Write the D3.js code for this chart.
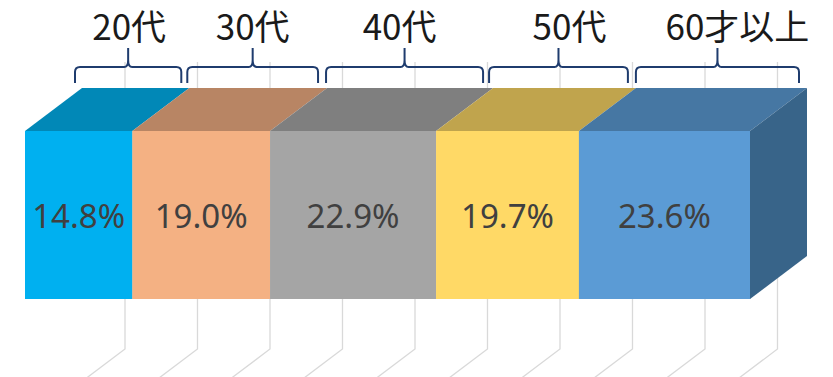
<!DOCTYPE html>
<html>
<head>
<meta charset="utf-8">
<script src="https://cdn.jsdelivr.net/npm/d3@7/dist/d3.min.js"></script>
<style>
  html, body { margin: 0; padding: 0; background: #fff; }
  svg { display: block; }
</style>
</head>
<body>
<svg id="chart" width="833" height="377"></svg>
<script>
// ---- data ----
const categories = ["20代", "30代", "40代", "50代", "60才以上"];
const values = [14.8, 19.0, 22.9, 19.7, 23.6];
const gridTicks = [10, 20, 30, 40, 50, 60, 70, 80, 90, 100];

// ---- styles ----
const frontColors = ["#00B0F0", "#F4B183", "#A5A5A5", "#FFD966", "#5B9BD5"];
const topColors   = ["#0188B7", "#B88564", "#7F7F7F", "#C0A44D", "#4677A3"];
const sideColor = "#386489";

const W = 833, H = 377;
const svg = d3.select("#chart");

const x = d3.scaleLinear().domain([0, 100]).range([25, 750]);
const y = d3.scaleBand().domain(["total"]).range([131, 299]).padding(0);
const DX = 57, DY = 43;           // oblique depth of the 3D bar
const wallShift = 27.5;           // gridline wall offset
const gridTop = 62, gridBottom = 349;

// stacked positions
let acc = 0;
const segs = values.map((v, i) => {
  const s = { i, cat: categories[i], v, x0: acc, x1: acc + v };
  acc += v;
  return s;
});

// ---- gridlines (behind) ----
const grid = svg.append("g").attr("stroke", "#D9D9D9").attr("stroke-width", 1.3).attr("fill", "none");
gridTicks.forEach(t => {
  const gx = x(t) + wallShift;
  grid.append("path")
    .attr("d", `M${gx},${gridTop} L${gx},${gridBottom} L${gx - DX},${gridBottom + DY}`);
});

// ---- bar ----
const yTop = y("total"), yBot = y("total") + y.bandwidth();
const bar = svg.append("g");
// top faces
bar.selectAll("path.top").data(segs).join("path")
  .attr("class", "top")
  .attr("fill", d => topColors[d.i])
  .attr("d", d => `M${x(d.x0)},${yTop} L${x(d.x0) + DX},${yTop - DY} L${x(d.x1) + DX},${yTop - DY} L${x(d.x1)},${yTop} Z`);
// front faces
bar.selectAll("rect.front").data(segs).join("rect")
  .attr("class", "front")
  .attr("x", d => x(d.x0))
  .attr("y", yTop)
  .attr("width", d => x(d.x1) - x(d.x0) + 0.3)
  .attr("height", y.bandwidth())
  .attr("fill", d => frontColors[d.i]);
// right side face
const last = segs[segs.length - 1];
bar.append("path")
  .attr("fill", sideColor)
  .attr("d", `M${x(last.x1)},${yTop} L${x(last.x1) + DX},${yTop - DY} L${x(last.x1) + DX},${yBot - DY} L${x(last.x1)},${yBot} Z`);

// data labels
bar.selectAll("text.val").data(segs).join("text")
  .attr("class", "val")
  .attr("x", d => (x(d.x0) + x(d.x1)) / 2)
  .attr("y", (yTop + yBot) / 2 + 13)
  .attr("text-anchor", "middle")
  .attr("font-family", "'Noto Sans', 'Noto Sans CJK JP', sans-serif")
  .attr("font-size", 33)
  .attr("fill", "#404040")
  .text(d => d.v.toFixed(1) + "%");

// ---- brackets ----
const bTop = 67, bEnd = 83, bTick = 48;
const startInset = [-7, -2, -1, -4, 0];
const endInset = [-8, -9, -10, -8, -8];
const labelNudge = [1, 0, -5, 11, 20];
const brk = svg.append("g");
segs.forEach((d, i) => {
  const x1 = x(d.x0) + DX + startInset[i];
  const x2 = x(d.x1) + DX + endInset[i];
  const xm = (x1 + x2) / 2;
  const r = 5;
  const p = `M${x1},${bEnd} L${x1},${bTop + r} Q${x1},${bTop} ${x1 + r},${bTop} ` +
            `L${xm - 4},${bTop} Q${xm},${bTop} ${xm},${bTop - 7} L${xm},${bTick} ` +
            `M${xm},${bTop - 7} Q${xm},${bTop} ${xm + 4},${bTop} ` +
            `L${x2 - r},${bTop} Q${x2},${bTop} ${x2},${bTop + r} L${x2},${bEnd}`;
  brk.append("path").attr("d", p).attr("fill", "none")
    .attr("stroke", "#1F3C6E").attr("stroke-width", 2);
  brk.append("text")
    .attr("x", xm + labelNudge[i])
    .attr("y", 40)
    .attr("text-anchor", "middle")
    .attr("font-family", "'Noto Sans CJK JP', 'Noto Sans', sans-serif")
    .attr("font-size", 35)
    .attr("fill", "#1a1a1a")
    .text(d.cat);
});
</script>
</body>
</html>
